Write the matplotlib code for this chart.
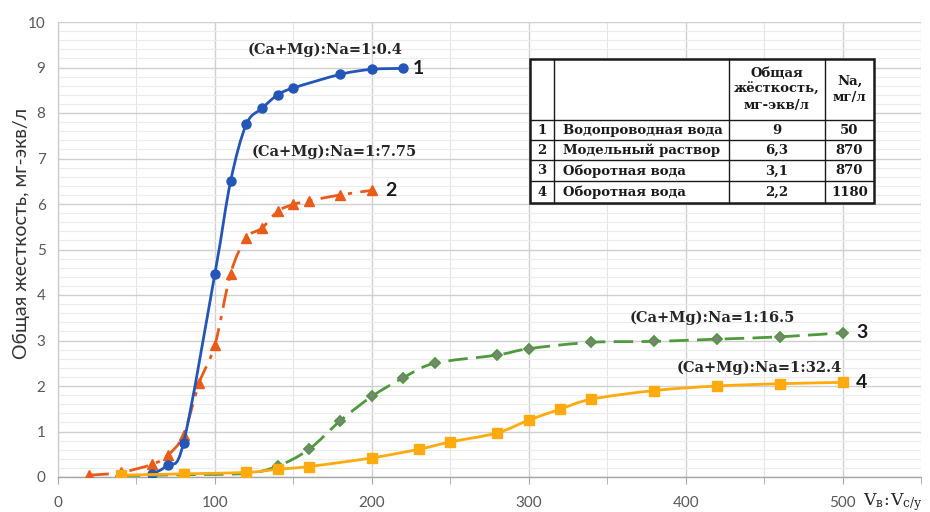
import numpy as np
import matplotlib
matplotlib.use("Agg")
import matplotlib.pyplot as plt
from matplotlib.path import Path
from matplotlib.patches import PathPatch, Rectangle
from matplotlib.ticker import MultipleLocator

# ---- data ----
x1 = [60, 70, 80, 100, 110, 120, 130, 140, 150, 180, 200, 220]
y1 = [0.06, 0.27, 0.75, 4.47, 6.5, 7.75, 8.1, 8.4, 8.55, 8.85, 8.96, 8.98]

x2 = [20, 40, 60, 70, 80, 90, 100, 110, 120, 130, 140, 150, 160, 180, 200]
y2 = [0.04, 0.1, 0.28, 0.48, 0.93, 2.07, 2.9, 4.47, 5.25, 5.47, 5.84, 5.99, 6.07, 6.2, 6.3]

x3 = [40, 80, 120, 140, 160, 180, 200, 220, 240, 280, 300, 340, 380, 420, 460, 500]
y3 = [0.03, 0.05, 0.08, 0.24, 0.61, 1.24, 1.77, 2.18, 2.5, 2.68, 2.82, 2.96, 2.98, 3.03, 3.08, 3.17]

x4 = [40, 80, 120, 140, 160, 200, 230, 250, 280, 300, 320, 340, 380, 420, 460, 500]
y4 = [0.04, 0.07, 0.1, 0.17, 0.23, 0.42, 0.61, 0.77, 0.97, 1.25, 1.49, 1.71, 1.9, 2.0, 2.05, 2.08]

ratio_labels = ["(Ca+Mg):Na=1:0.4", "(Ca+Mg):Na=1:7.75",
                "(Ca+Mg):Na=1:16.5", "(Ca+Mg):Na=1:32.4"]

table_header = ["", "", "Общая\nжёсткость,\nмг-экв/л", "Na,\nмг/л"]
table_num = ["1", "2", "3", "4"]
table_name = ["Водопроводная вода", "Модельный раствор", "Оборотная вода", "Оборотная вода"]
table_hard = ["9", "6,3", "3,1", "2,2"]
table_na = ["50", "870", "870", "1180"]

xticks = [0, 100, 200, 300, 400, 500]
yticks = list(range(0, 11))

# ---- colours ----
C_BLUE = "#2356B8"
C_ORANGE = "#EA5B1A"
C_GREEN = "#4E9A3C"
C_GREY = "#7F7F7F"
C_YELLOW = "#FFAA0E"
C_TICK = "#595959"

W, H = 930, 512
fig = plt.figure(figsize=(W / 100, H / 100), dpi=100)
fig.patch.set_facecolor("white")

L, R, T, B = 58, 921, 22, 477
ax = fig.add_axes([L / W, 1 - B / H, (R - L) / W, (B - T) / H])
ax.set_xlim(0, 550)
ax.set_ylim(0, 10)

ax.xaxis.set_major_locator(MultipleLocator(100))
ax.xaxis.set_minor_locator(MultipleLocator(50))
ax.yaxis.set_major_locator(MultipleLocator(1))
ax.yaxis.set_minor_locator(MultipleLocator(0.2))
ax.set_xticks(xticks)
ax.set_yticks(yticks)

ax.grid(which="major", axis="both", color="#D0D0D0", lw=1.0, zorder=0)
ax.grid(which="minor", axis="y", color="#ECECEC", lw=0.8, zorder=0)
ax.grid(which="minor", axis="x", color="#E4E4E4", lw=0.8, zorder=0)
ax.axvline(550, color="#E4E4E4", lw=0.8, zorder=0)
ax.set_axisbelow(True)

for s in ["top", "right"]:
    ax.spines[s].set_visible(False)
ax.spines["left"].set_color("#C8C8C8")
ax.spines["bottom"].set_color("#A6A6A6")
ax.spines["bottom"].set_linewidth(1.0)

ax.tick_params(axis="y", which="both", length=0, pad=9, labelsize=11, labelcolor=C_TICK)
ax.tick_params(axis="x", which="major", length=5, color="#A6A6A6", pad=9,
               labelsize=11, labelcolor=C_TICK)
ax.tick_params(axis="x", which="minor", length=5, color="#A6A6A6")
for lab in ax.get_xticklabels() + ax.get_yticklabels():
    lab.set_family("Lato")

ax.set_ylabel("Общая жесткость, мг-экв/л", family="Lato", fontsize=14,
              color="#333333", labelpad=1)
ax.yaxis.set_label_coords(-0.033, 0.535)


def smooth_patch(xs, ys, color, ls, lw, z):
    pts = np.column_stack([xs, ys]).astype(float)
    n = len(pts)
    verts = [pts[0]]
    codes = [Path.MOVETO]
    t = 1.0 / 6.0
    for i in range(n - 1):
        p0 = pts[i - 1] if i > 0 else pts[i]
        p1 = pts[i]
        p2 = pts[i + 1]
        p3 = pts[i + 2] if i + 2 < n else pts[i + 1]
        c1 = p1 + (p2 - p0) * t
        c2 = p2 - (p3 - p1) * t
        verts += [c1, c2, p2]
        codes += [Path.CURVE4] * 3
    patch = PathPatch(Path(verts, codes), fill=False, edgecolor=color,
                      lw=lw, linestyle=ls, zorder=z, capstyle="butt")
    ax.add_patch(patch)


# series 2 (dash-dot, triangles)
smooth_patch(x2, y2, C_ORANGE, (0, (7, 3, 1.5, 3)), 2.0, 2)
ax.plot(x2, y2, ls="none", marker="^", ms=7.5, color=C_ORANGE, zorder=3)
# series 1 (solid, circles)
smooth_patch(x1, y1, C_BLUE, "-", 2.0, 4)
ax.plot(x1, y1, ls="none", marker="o", ms=6.5, color=C_BLUE, zorder=5)
# series 3 (dashed, diamonds)
smooth_patch(x3, y3, C_GREEN, (0, (7, 3)), 2.0, 6)
ax.plot(x3, y3, ls="none", marker="D", ms=5.5, mfc=C_GREY, mec=C_GREEN,
        mew=1.3, zorder=7)
# series 4 (solid, squares)
smooth_patch(x4, y4, C_YELLOW, "-", 2.0, 8)
ax.plot(x4, y4, ls="none", marker="s", ms=6.5, color=C_YELLOW, zorder=9)

# ---- overlay in pixel coordinates for labels and the table ----
ov = fig.add_axes([0, 0, 1, 1], zorder=10)
ov.set_xlim(0, W)
ov.set_ylim(H, 0)
ov.axis("off")
ov.patch.set_alpha(0)

serif_bold = dict(family="DejaVu Serif", weight="bold", color="#262626")
ratio_pos = [(325, 50), (334, 152), (712, 318), (759, 368)]
for txt, (px, py) in zip(ratio_labels, ratio_pos):
    ov.text(px, py, txt, ha="center", va="center", fontsize=10.5, **serif_bold)

num_pos = [(418, 68), (391, 191), (862, 333), (862, 383)]
for txt, (px, py) in zip(table_num, num_pos):
    ov.text(px, py, txt, ha="center", va="center", fontsize=14,
            family="Lato", weight="bold", color="#1A1A1A")

# x axis title
ov.text(863, 505, r"$\mathregular{V_{в}\!:\!V_{с/у}}$", ha="left", va="baseline",
        fontsize=12.5, color="#262626", family="DejaVu Serif")

# table
tx = [530, 554, 729, 825, 874]
ty = [59, 120, 140, 160, 181, 203]
ov.add_patch(Rectangle((tx[0], ty[0]), tx[-1] - tx[0], ty[-1] - ty[0],
                       facecolor="white", edgecolor="none", zorder=1))
for xv in tx[1:-1]:
    ov.plot([xv, xv], [ty[0], ty[-1]], color="#1A1A1A", lw=1.0, zorder=2)
for yv in ty[1:-1]:
    ov.plot([tx[0], tx[-1]], [yv, yv], color="#1A1A1A", lw=1.0, zorder=2)
ov.add_patch(Rectangle((tx[0], ty[0]), tx[-1] - tx[0], ty[-1] - ty[0],
                       facecolor="none", edgecolor="#1A1A1A", lw=1.8, zorder=3))

tfont = dict(family="DejaVu Serif", weight="bold", color="#1A1A1A", fontsize=9.5)
ov.text((tx[2] + tx[3]) / 2, (ty[0] + ty[1]) / 2, table_header[2], ha="center",
        va="center", linespacing=1.25, zorder=4, **tfont)
ov.text((tx[3] + tx[4]) / 2, (ty[0] + ty[1]) / 2, table_header[3], ha="center",
        va="center", linespacing=1.25, zorder=4, **tfont)
for i in range(4):
    cy = (ty[i + 1] + ty[i + 2]) / 2 + 0.5
    ov.text((tx[0] + tx[1]) / 2, cy, table_num[i], ha="center", va="center", zorder=4, **tfont)
    ov.text(tx[1] + 9, cy, table_name[i], ha="left", va="center", zorder=4, **tfont)
    ov.text((tx[2] + tx[3]) / 2, cy, table_hard[i], ha="center", va="center", zorder=4, **tfont)
    ov.text((tx[3] + tx[4]) / 2, cy, table_na[i], ha="center", va="center", zorder=4, **tfont)

fig.savefig("out.png", dpi=100, facecolor="white")
